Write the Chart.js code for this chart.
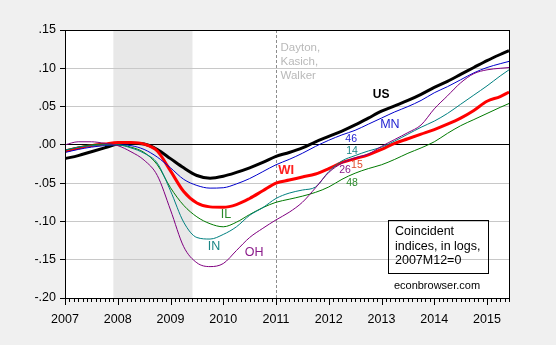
<!DOCTYPE html>
<html>
<head>
<meta charset="utf-8">
<title>Coincident indices</title>
<script src="https://cdn.jsdelivr.net/npm/chart.js"></script>
<style>
    body { margin: 0; background: #f0f0f0; }
    #wrap { width: 556px; height: 345px; }
</style>
</head>
<body>
<div id="wrap"><canvas id="coincident-chart" width="556" height="345"></canvas></div>
<script>
// observation months (quarterly readings, last point 2015M06)
const periods = [
    '2007M01', '2007M04', '2007M07', '2007M10',
    '2008M01', '2008M04', '2008M07', '2008M10',
    '2009M01', '2009M04', '2009M07', '2009M10',
    '2010M01', '2010M04', '2010M07', '2010M10',
    '2011M01', '2011M04', '2011M07', '2011M10',
    '2012M01', '2012M04', '2012M07', '2012M10',
    '2013M01', '2013M04', '2013M07', '2013M10',
    '2014M01', '2014M04', '2014M07', '2014M10',
    '2015M01', '2015M04', '2015M06'
];

// log coincident index, 2007M12 = 0
const usValues = [-0.018, -0.014, -0.009, -0.004, 0.001, 0.002, 0.001, -0.006, -0.018, -0.030, -0.040, -0.0435,
    -0.041, -0.036, -0.030, -0.023, -0.015, -0.010, -0.004, 0.004, 0.011, 0.018, 0.026, 0.035,
    0.044, 0.051, 0.058, 0.066, 0.075, 0.083, 0.092, 0.101, 0.110, 0.118, 0.123];
const mnValues = [-0.010, -0.006, -0.003, -0.001, 0.000, -0.001, -0.006, -0.016, -0.030, -0.045, -0.053, -0.0565,
    -0.056, -0.051, -0.044, -0.035, -0.026, -0.019, -0.011, -0.002, 0.006, 0.013, 0.019, 0.027,
    0.035, 0.043, 0.050, 0.058, 0.068, 0.076, 0.085, 0.094, 0.101, 0.106, 0.109];
const wiValues = [-0.008, -0.004, -0.001, 0.001, 0.003, 0.003, 0.001, -0.008, -0.034, -0.061, -0.076, -0.081,
    -0.0815, -0.078, -0.070, -0.060, -0.050, -0.046, -0.042, -0.038, -0.031, -0.023, -0.018, -0.013,
    -0.006, 0.002, 0.008, 0.014, 0.020, 0.027, 0.035, 0.045, 0.057, 0.063, 0.069];
const ilValues = [-0.007, -0.003, 0.000, 0.001, 0.000, -0.003, -0.010, -0.026, -0.056, -0.079, -0.094, -0.103,
    -0.107, -0.101, -0.091, -0.082, -0.075, -0.071, -0.067, -0.062, -0.055, -0.045, -0.037, -0.031,
    -0.026, -0.019, -0.011, -0.004, 0.004, 0.015, 0.025, 0.033, 0.041, 0.049, 0.054];
const inValues = [-0.007, -0.003, -0.001, 0.000, 0.000, -0.004, -0.011, -0.024, -0.060, -0.101, -0.121, -0.123,
    -0.117, -0.107, -0.092, -0.082, -0.070, -0.063, -0.059, -0.055, -0.035, -0.021, -0.014, -0.008,
    -0.003, 0.005, 0.014, 0.023, 0.031, 0.041, 0.053, 0.065, 0.077, 0.090, 0.098];
const ohValues = [0.000, 0.004, 0.004, 0.002, -0.001, -0.009, -0.020, -0.040, -0.085, -0.133, -0.154, -0.159,
    -0.155, -0.138, -0.121, -0.109, -0.098, -0.088, -0.075, -0.056, -0.036, -0.024, -0.017, -0.012,
    -0.002, 0.007, 0.016, 0.026, 0.047, 0.064, 0.081, 0.093, 0.098, 0.100, 0.101];

const yTicks = [-0.20, -0.15, -0.10, -0.05, 0.00, 0.05, 0.10, 0.15];
const yearLabels = ['2007', '2008', '2009', '2010', '2011', '2012', '2013', '2014', '2015'];

const recessionStart = '2007M12';
const recessionEnd = '2009M06';
const governorsMark = '2011M01';

const FONT = '"Liberation Sans", Arial, sans-serif';

// months since 2007M01
function monthIndex(p) {
    return (parseInt(p.slice(0, 4)) - 2007) * 12 + parseInt(p.slice(5)) - 1;
}
const lastMonth = monthIndex(periods[periods.length - 1]);

function toPoints(values) {
    return values.map((v, i) => ({ x: monthIndex(periods[i]), y: v }));
}

// tags written next to the lines (month index, value)
const lineTags = [
    { text: 'US', x: 71.9, y: 0.065, color: '#000000', font: 'bold 12px ' + FONT },
    { text: 'MN', x: 73.9, y: 0.026, color: '#2323d2', font: '12.5px ' + FONT },
    { text: 'WI', x: 50.3, y: -0.033, color: '#ff2020', font: 'bold 13px ' + FONT },
    { text: 'IL', x: 36.6, y: -0.091, color: '#2a8a2a', font: '12.5px ' + FONT },
    { text: 'IN', x: 33.9, y: -0.133, color: '#1a8585', font: '12.5px ' + FONT },
    { text: 'OH', x: 43.0, y: -0.140, color: '#8a1a8a', font: '12.5px ' + FONT },
    { text: '46', x: 65.1, y: 0.008, color: '#2323d2', font: '10.5px ' + FONT },
    { text: '14', x: 65.3, y: -0.008, color: '#1a8585', font: '10.5px ' + FONT },
    { text: '26', x: 63.7, y: -0.033, color: '#8a1a8a', font: '10.5px ' + FONT },
    { text: '15', x: 66.4, y: -0.027, color: '#e04a2a', font: '10.5px ' + FONT },
    { text: '48', x: 65.3, y: -0.050, color: '#2a8a2a', font: '10.5px ' + FONT }
];

// backdrop, recession band, dashed marker, frame and notes
const decorations = {
    id: 'decorations',
    beforeDraw(chart) {
        const { ctx, chartArea: a, scales: { x } } = chart;
        ctx.save();
        ctx.fillStyle = '#f0f0f0';
        ctx.fillRect(0, 0, chart.width, chart.height);
        ctx.fillStyle = '#ffffff';
        ctx.fillRect(a.left, a.top, a.right - a.left, a.bottom - a.top);
        const x0 = x.getPixelForValue(monthIndex(recessionStart));
        const x1 = x.getPixelForValue(monthIndex(recessionEnd));
        ctx.fillStyle = '#e8e8e8';
        ctx.fillRect(x0, a.top, x1 - x0, a.bottom - a.top);
        ctx.restore();
    },
    beforeDatasetsDraw(chart) {
        const { ctx, chartArea: a, scales: { x } } = chart;
        const xm = Math.round(x.getPixelForValue(monthIndex(governorsMark))) + 0.5;
        ctx.save();
        ctx.strokeStyle = '#8c8c8c';
        ctx.lineWidth = 1;
        ctx.setLineDash([3, 2]);
        ctx.beginPath();
        ctx.moveTo(xm, a.top);
        ctx.lineTo(xm, a.bottom);
        ctx.stroke();
        ctx.setLineDash([]);

        ctx.fillStyle = '#b9b9b9';
        ctx.font = '11.5px ' + FONT;
        ctx.textBaseline = 'middle';
        ctx.textAlign = 'left';
        ['Dayton,', 'Kasich,', 'Walker'].forEach((t, i) => ctx.fillText(t, xm + 4, a.top + 18 + i * 14));
        ctx.restore();
    },
    afterDatasetsDraw(chart) {
        const { ctx, chartArea: a, scales: { x, y } } = chart;
        ctx.save();
        // frame
        ctx.strokeStyle = '#000';
        ctx.lineWidth = 1;
        ctx.strokeRect(Math.round(a.left) + 0.5, Math.round(a.top) + 0.5,
            Math.round(a.right - a.left), Math.round(a.bottom - a.top));

        // monthly ticks, longer at each year
        ctx.beginPath();
        for (let m = 0; m <= lastMonth; m++) {
            const px = Math.round(x.getPixelForValue(m)) + 0.5;
            ctx.moveTo(px, a.bottom);
            ctx.lineTo(px, a.bottom + (m % 12 === 0 ? 7 : 4));
        }
        ctx.stroke();

        // series tags
        ctx.textAlign = 'center';
        ctx.textBaseline = 'middle';
        lineTags.forEach(t => {
            ctx.font = t.font;
            ctx.fillStyle = t.color;
            ctx.fillText(t.text, x.getPixelForValue(t.x), y.getPixelForValue(t.y));
        });

        // note box
        ctx.strokeStyle = '#000';
        ctx.strokeRect(388.5, 220.5, 100, 53);
        ctx.fillStyle = '#000';
        ctx.font = '12.5px ' + FONT;
        ctx.textAlign = 'left';
        ['Coincident', 'indices, in logs,', '2007M12=0'].forEach((t, i) => ctx.fillText(t, 395, 232 + i * 14.5));
        ctx.textAlign = 'center';
        ctx.font = '11px ' + FONT;
        ctx.fillText('econbrowser.com', 437, 286);
        ctx.restore();
    }
};

// set up the chart
const data = {
    datasets: [
        { label: 'OH', data: toPoints(ohValues), borderColor: '#800080', borderWidth: 1 },
        { label: 'IN', data: toPoints(inValues), borderColor: '#008080', borderWidth: 1 },
        { label: 'IL', data: toPoints(ilValues), borderColor: '#007a00', borderWidth: 1 },
        { label: 'MN', data: toPoints(mnValues), borderColor: '#0000cc', borderWidth: 1 },
        { label: 'WI', data: toPoints(wiValues), borderColor: '#ff0000', borderWidth: 3 },
        { label: 'US', data: toPoints(usValues), borderColor: '#000000', borderWidth: 3 }
    ]
};

// configure the chart
const config = {
    type: 'line',
    data,
    options: {
        responsive: false,
        animation: false,
        events: [],
        layout: { padding: { top: 30, right: 47, left: 0, bottom: 0 } },
        elements: {
            point: { radius: 0 },
            line: { cubicInterpolationMode: 'monotone', fill: false }
        },
        plugins: {
            legend: { display: false },
            tooltip: { enabled: false }
        },
        scales: {
            x: {
                type: 'linear',
                min: 0,
                max: lastMonth,
                afterFit: s => { s.height = 47; },
                border: { color: '#000' },
                grid: { display: false, tickLength: 4 },
                afterBuildTicks: s => {
                    s.ticks = [];
                    for (let m = 0; m <= lastMonth; m += 12) s.ticks.push({ value: m });
                },
                ticks: {
                    autoSkip: false,
                    maxRotation: 0,
                    padding: 10,
                    color: '#000',
                    font: { family: FONT, size: 12.5 },
                    callback: v => yearLabels[v / 12]
                }
            },
            y: {
                min: yTicks[0],
                max: yTicks[yTicks.length - 1],
                afterFit: s => { s.width = 65; },
                afterBuildTicks: s => { s.ticks = yTicks.map(v => ({ value: v })); },
                border: { color: '#000' },
                grid: {
                    tickLength: 5,
                    tickColor: '#000',
                    color: c => (Math.abs(c.tick.value) < 1e-9 ? '#000000' : '#c8c8c8')
                },
                ticks: {
                    padding: 4,
                    color: '#000',
                    font: { family: FONT, size: 12.5 },
                    callback: v => (v < -1e-9 ? '-' : '') + Math.abs(v).toFixed(2).replace(/^0/, '')
                }
            }
        }
    },
    plugins: [decorations]
};

// Render the chart
const coincidentChart = new Chart(
    document.getElementById('coincident-chart'),
    config
);
</script>
</body>
</html>
